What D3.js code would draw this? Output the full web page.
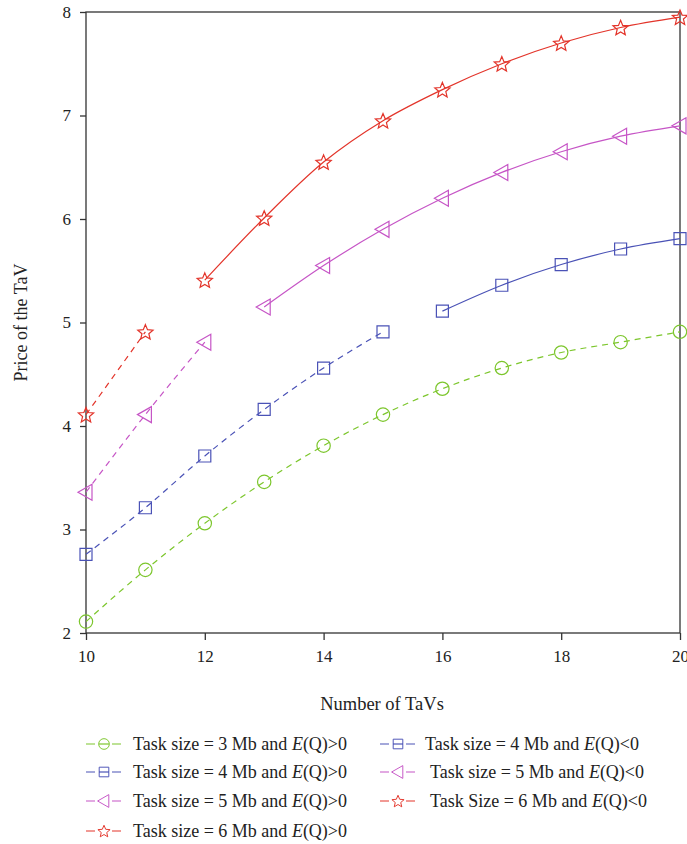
<!doctype html>
<html lang="en">
<head>
  <meta charset="utf-8">
  <title>Price of the TaV</title>
  <script src="https://d3js.org/d3.v7.min.js"></script>
  <style>
    html, body { margin: 0; padding: 0; background: #fff; }
    svg { display: block; font-family: "Liberation Serif", "DejaVu Serif", serif; }
  </style>
</head>
<body>
  <div id="chart"></div>
  <script>
    // Data ------------------------------------------------------------------------------------------------------------
    const xTicks = [10, 12, 14, 16, 18, 20];
    const yTicks = [2, 3, 4, 5, 6, 7, 8];

    const green3Pos = [[10, 2.11], [11, 2.61], [12, 3.06], [13, 3.46], [14, 3.81], [15, 4.11], [16, 4.36], [17, 4.56], [18, 4.71], [19, 4.81], [20, 4.91]];
    const blue4Pos = [[10, 2.76], [11, 3.21], [12, 3.71], [13, 4.16], [14, 4.56], [15, 4.91]];
    const blue4Neg = [[16, 5.11], [17, 5.36], [18, 5.56], [19, 5.71], [20, 5.81]];
    const mag5Pos = [[10, 3.36], [11, 4.11], [12, 4.81]];
    const mag5Neg = [[13, 5.15], [14, 5.55], [15, 5.90], [16, 6.20], [17, 6.45], [18, 6.65], [19, 6.80], [20, 6.90]];
    const red6Pos = [[10, 4.11], [11, 4.91]];
    const red6Neg = [[12, 5.41], [13, 6.01], [14, 6.55], [15, 6.95], [16, 7.25], [17, 7.50], [18, 7.70], [19, 7.85], [20, 7.95]];

    const series = [
      { data: green3Pos, color: "#7cc62c", marker: "circle", dashed: true },
      { data: blue4Pos, color: "#4a52b6", marker: "square", dashed: true },
      { data: blue4Neg, color: "#4a52b6", marker: "square", dashed: false },
      { data: mag5Pos, color: "#c655c6", marker: "triangle", dashed: true },
      { data: mag5Neg, color: "#c655c6", marker: "triangle", dashed: false },
      { data: red6Pos, color: "#e3342a", marker: "star", dashed: true },
      { data: red6Neg, color: "#e3342a", marker: "star", dashed: false }
    ];

    const legendItems = [
      { label: "Task size = 3 Mb and ", sign: ">0", color: "#7cc62c", marker: "circle", col: 0, row: 0 },
      { label: "Task size = 4 Mb and ", sign: ">0", color: "#4a52b6", marker: "square", col: 0, row: 1 },
      { label: "Task size = 5 Mb and ", sign: ">0", color: "#c655c6", marker: "triangle", col: 0, row: 2 },
      { label: "Task size = 6 Mb and ", sign: ">0", color: "#e3342a", marker: "star", col: 0, row: 3 },
      { label: "Task size = 4 Mb and ", sign: "<0", color: "#4a52b6", marker: "square", col: 1, row: 0 },
      { label: "Task size = 5 Mb and ", sign: "<0", color: "#c655c6", marker: "triangle", col: 1, row: 1 },
      { label: "Task Size = 6 Mb and ", sign: "<0", color: "#e3342a", marker: "star", col: 1, row: 2 }
    ];

    // Canvas ----------------------------------------------------------------------------------------------------------
    const width = 687;
    const height = 844;
    const plot = { left: 86, right: 680, top: 12, bottom: 633 };

    const svg = d3.select("#chart").append("svg")
      .attr("width", width)
      .attr("height", height);

    const x = d3.scaleLinear().domain([10, 20]).range([plot.left, plot.right]);
    const y = d3.scaleLinear().domain([2, 8]).range([plot.bottom, plot.top]);

    // Markers ---------------------------------------------------------------------------------------------------------
    function drawMarker(g, type, color) {
      const m = g.append("path")
        .attr("fill", "none")
        .attr("stroke", color)
        .attr("stroke-width", 1.2);
      if (type === "circle") {
        m.attr("d", d3.symbol(d3.symbolCircle, 140)());
      } else if (type === "square") {
        m.attr("d", "M-6,-6H6V6H-6Z");
      } else if (type === "triangle") {
        m.attr("d", "M-8,0L6,-8L6,8Z");
      } else if (type === "star") {
        const pts = [];
        for (let i = 0; i < 10; i++) {
          const r = i % 2 === 0 ? 8 : 3.6;
          const a = -Math.PI / 2 + i * Math.PI / 5;
          pts.push([r * Math.cos(a), r * Math.sin(a) + 0.8]);
        }
        m.attr("d", "M" + pts.map(p => p.join(",")).join("L") + "Z");
      }
    }

    // Axes ------------------------------------------------------------------------------------------------------------
    const axisColor = "#333";

    svg.append("rect")
      .attr("x", plot.left)
      .attr("y", plot.top)
      .attr("width", plot.right - plot.left)
      .attr("height", plot.bottom - plot.top)
      .attr("fill", "none")
      .attr("stroke", axisColor)
      .attr("stroke-width", 1.3);

    const xAxis = svg.append("g")
      .attr("transform", "translate(0," + plot.bottom + ")")
      .call(d3.axisBottom(x).tickValues(xTicks).tickFormat(d3.format("d"))
        .tickSize(7).tickSizeOuter(0).tickPadding(10));

    const yAxis = svg.append("g")
      .attr("transform", "translate(" + plot.left + ",0)")
      .call(d3.axisLeft(y).tickValues(yTicks).tickFormat(d3.format("d"))
        .tickSize(6).tickSizeOuter(0).tickPadding(9));

    [xAxis, yAxis].forEach(a => {
      a.select(".domain").remove();
      a.selectAll("line").attr("stroke", axisColor).attr("stroke-width", 1.3);
      a.selectAll("text")
        .attr("fill", "#222")
        .style("font-family", "'Liberation Serif', serif")
        .style("font-size", "17px");
    });

    svg.append("text")
      .attr("x", (plot.left + plot.right) / 2 - 1)
      .attr("y", 710)
      .attr("text-anchor", "middle")
      .attr("fill", "#222")
      .style("font-size", "18.5px")
      .text("Number of TaVs");

    svg.append("text")
      .attr("transform", "translate(27," + ((plot.top + plot.bottom) / 2) + ") rotate(-90)")
      .attr("text-anchor", "middle")
      .attr("fill", "#222")
      .style("font-size", "18px")
      .text("Price of the TaV");

    // Lines -----------------------------------------------------------------------------------------------------------
    const line = d3.line()
      .x(d => x(d[0]))
      .y(d => y(d[1]))
      .curve(d3.curveMonotoneX);

    series.forEach(s => {
      svg.append("path")
        .datum(s.data)
        .attr("d", line)
        .attr("fill", "none")
        .attr("stroke", s.color)
        .attr("stroke-width", 1.2)
        .attr("stroke-dasharray", s.dashed ? "6,5" : null);

      s.data.forEach(d => {
        const g = svg.append("g").attr("transform", "translate(" + x(d[0]) + "," + y(d[1]) + ")");
        drawMarker(g, s.marker, s.color);
      });
    });

    // Legend ----------------------------------------------------------------------------------------------------------
    const legendX = [104, 398];
    const legendTextX = [133, 425];
    const legendY = [744, 772, 801, 831];

    legendItems.forEach(item => {
      const cx = legendX[item.col];
      const cy = legendY[item.row];
      const g = svg.append("g");
      g.append("line").attr("x1", cx - 18).attr("x2", cx + 17).attr("y1", cy).attr("y2", cy)
        .attr("stroke", item.color).attr("stroke-width", 1.2)
        .attr("stroke-dasharray", "9,17");
      const mg = g.append("g").attr("transform", "translate(" + cx + "," + cy + ") scale(0.8)");
      drawMarker(mg, item.marker, item.color);
      if (item.marker === "circle" || item.marker === "square") {
        g.append("line").attr("x1", cx - 5).attr("x2", cx + 5).attr("y1", cy).attr("y2", cy)
          .attr("stroke", item.color).attr("stroke-width", 1.2);
      }

      const t = svg.append("text")
        .attr("x", legendTextX[item.col] + (item.col === 1 && item.row > 0 ? 5 : 0))
        .attr("y", cy + 6)
        .attr("fill", "#222")
        .style("font-size", "18px");
      t.append("tspan").text(item.label);
      t.append("tspan").style("font-style", "italic").text("E");
      t.append("tspan").text("(Q)" + item.sign);
    });
  </script>
</body>
</html>
